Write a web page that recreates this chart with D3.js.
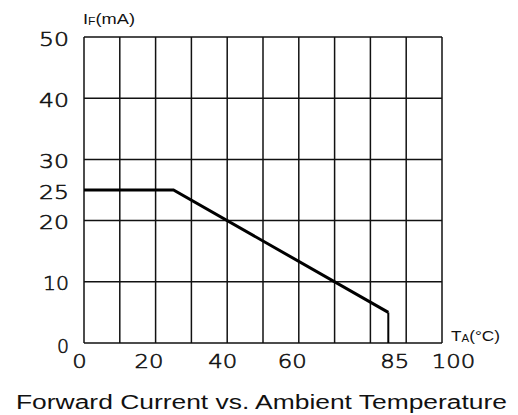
<!DOCTYPE html>
<html lang="en">
<head>
<meta charset="UTF-8">
<title>Forward Current vs. Ambient Temperature</title>
<script src="https://cdn.jsdelivr.net/npm/d3@7"></script>
<style>
  body { margin: 0; background: #fff; }
  .tick-label { font-family: "DejaVu Sans", sans-serif; font-weight: 200; font-size: 20px;
                fill: #111; stroke: #111; stroke-width: 0.6px; }
  .unit { font-family: "Liberation Sans", Arial, sans-serif; fill: #111; }
</style>
</head>
<body>
<svg width="518" height="415"></svg>
<script>
// derating curve: ambient temperature (°C) vs max forward current (mA)
var temps = [0, 25, 85, 85];
var currents = [25, 25, 5, 0];

var xTicks = [0, 20, 40, 60, 85, 100];
var yTicks = [0, 10, 20, 25, 30, 40, 50];
var xGrid = d3.range(0, 101, 10);
var yGrid = d3.range(0, 51, 10);

var svg = d3.select("svg");
var plot = { left: 84, right: 442, top: 37, bottom: 343 };

var x = d3.scaleLinear().domain([0, 100]).range([plot.left, plot.right]);
var y = d3.scaleLinear().domain([0, 50]).range([plot.bottom, plot.top]);

// grid
var grid = svg.append("g").attr("stroke", "#111").attr("stroke-width", 1.5);
grid.selectAll(".vg").data(xGrid).enter().append("line")
    .attr("x1", function(d){ return x(d); })
    .attr("x2", function(d){ return x(d); })
    .attr("y1", plot.top).attr("y2", plot.bottom);
grid.selectAll(".hg").data(yGrid).enter().append("line")
    .attr("y1", function(d){ return y(d); })
    .attr("y2", function(d){ return y(d); })
    .attr("x1", plot.left).attr("x2", plot.right);

// tick labels through axes (no tick marks)
var xNudge = { 0: -5, 20: -7, 40: -5, 60: -7, 85: 6, 100: 11 };
var xAxis = svg.append("g")
    .attr("transform", "translate(0," + plot.bottom + ")")
    .call(d3.axisBottom(x).tickValues(xTicks).tickSize(0).tickPadding(0));
xAxis.select(".domain").remove();
xAxis.selectAll("text")
    .attr("class", "tick-label")
    .attr("y", 25)
    .attr("dy", 0)
    .attr("dx", function(d){ return xNudge[d]; })
    .attr("textLength", function(d){ return String(d).length * 14.5; })
    .attr("lengthAdjust", "spacingAndGlyphs");

var yAxis = svg.append("g")
    .attr("transform", "translate(" + plot.left + ",0)")
    .call(d3.axisLeft(y).tickValues(yTicks).tickSize(0).tickPadding(15));
yAxis.select(".domain").remove();
yAxis.selectAll("text")
    .attr("class", "tick-label")
    .attr("dy", function(d){ return d === 0 ? 9 : 8; })
    .attr("textLength", function(d){ return d === 0 ? 12 : d === 10 ? 26 : 30; })
    .attr("lengthAdjust", "spacingAndGlyphs");
svg.selectAll(".tick text").attr("font-size", null).attr("font-family", null);
xAxis.attr("font-size", null).attr("font-family", null);
yAxis.attr("font-size", null).attr("font-family", null);

// curve
var line = d3.line()
    .x(function(d){ return x(d[0]); })
    .y(function(d){ return y(d[1]); });
var pts = temps.map(function(t, i){ return [t, currents[i]]; });
svg.append("path")
    .attr("d", line(pts.slice(0, 3)))
    .attr("fill", "none").attr("stroke", "#000")
    .attr("stroke-width", 3).attr("stroke-linejoin", "miter");
svg.append("path")
    .attr("d", line(pts.slice(2)))
    .attr("fill", "none").attr("stroke", "#000")
    .attr("stroke-width", 2);

// axis units
var yUnit = svg.append("text").attr("class", "unit")
    .attr("x", 83).attr("y", 24).attr("font-size", 15)
    .attr("textLength", 52).attr("lengthAdjust", "spacingAndGlyphs");
yUnit.append("tspan").text("I");
yUnit.append("tspan").attr("font-size", 10).attr("dy", 1).text("F");
yUnit.append("tspan").attr("dy", -1).text("(mA)");

var xUnit = svg.append("text").attr("class", "unit")
    .attr("x", 451).attr("y", 341).attr("font-size", 15)
    .attr("textLength", 49).attr("lengthAdjust", "spacingAndGlyphs");
xUnit.append("tspan").text("T");
xUnit.append("tspan").attr("font-size", 10).attr("dy", 1).text("A");
xUnit.append("tspan").attr("dy", -1).text("(°C)");

// title
svg.append("text").attr("class", "unit")
    .attr("x", 16).attr("y", 409)
    .attr("font-size", 20)
    .attr("textLength", 491).attr("lengthAdjust", "spacingAndGlyphs")
    .text("Forward Current vs. Ambient Temperature");
</script>
</body>
</html>
